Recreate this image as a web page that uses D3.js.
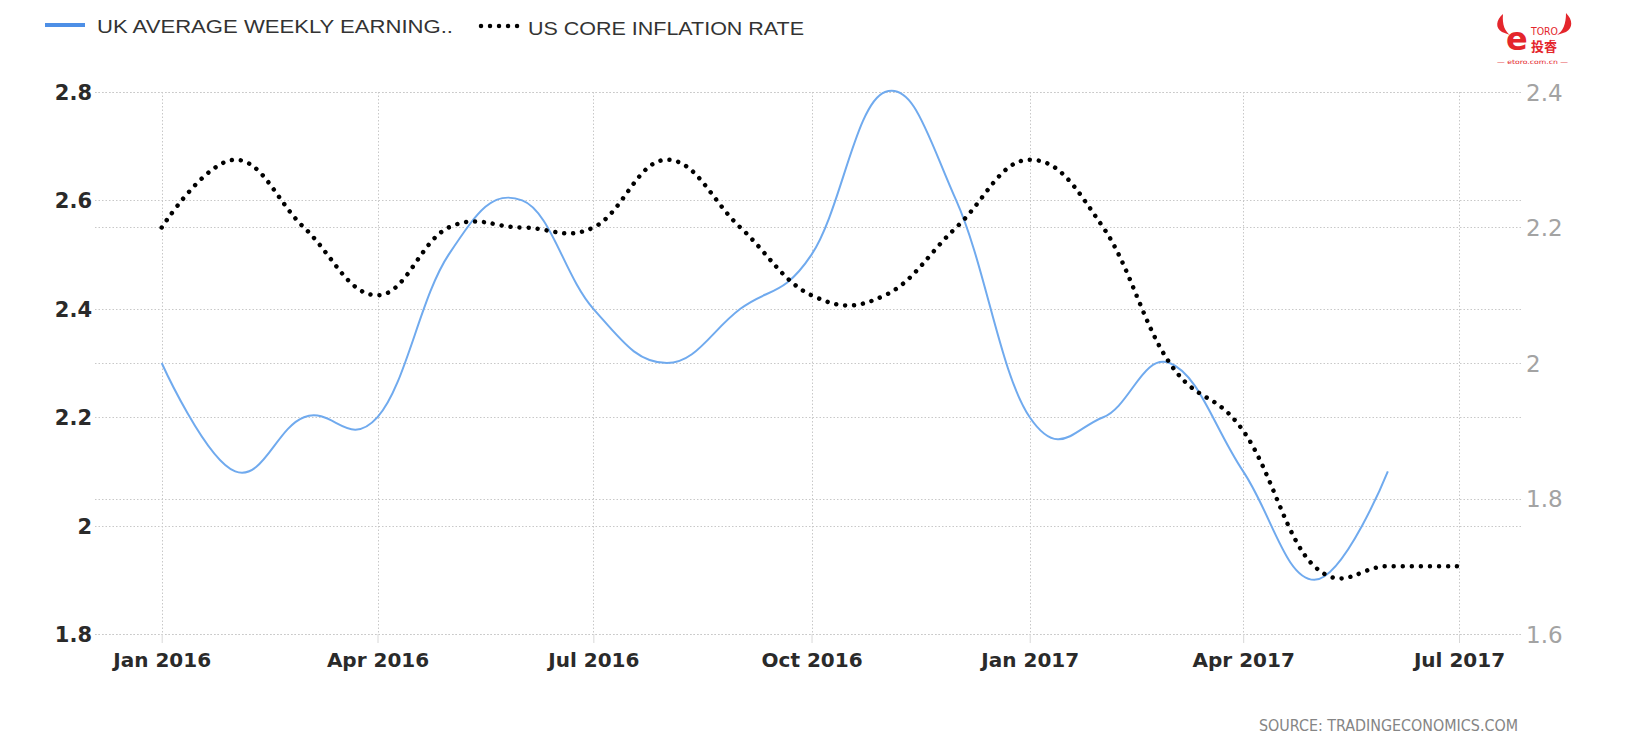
<!DOCTYPE html>
<html><head><meta charset="utf-8">
<script src="https://cdn.jsdelivr.net/npm/d3@7"></script>
<style>html,body{margin:0;padding:0;background:#fff;}svg{display:block;}</style>
</head><body>
<svg id="chart" width="1645" height="750"></svg>
<script>
// ---- data ----
const ukMonths = ["2016-01","2016-02","2016-03","2016-04","2016-05","2016-06","2016-07","2016-08","2016-09","2016-10","2016-11","2016-12","2017-01","2017-02","2017-03","2017-04","2017-05","2017-06"];
const ukValues = [2.3,2.1,2.2,2.2,2.5,2.6,2.4,2.3,2.4,2.5,2.8,2.6,2.2,2.2,2.3,2.1,1.9,2.1];
const usMonths = ["2016-01","2016-02","2016-03","2016-04","2016-05","2016-06","2016-07","2016-08","2016-09","2016-10","2016-11","2016-12","2017-01","2017-02","2017-03","2017-04","2017-05","2017-06","2017-07"];
const usValues = [2.2,2.3,2.2,2.1,2.2,2.2,2.2,2.3,2.2,2.1,2.1,2.2,2.3,2.2,2.0,1.9,1.7,1.7,1.7];
const xTicks = ["2016-01","2016-04","2016-07","2016-10","2017-01","2017-04","2017-07"];
const leftTicks = [1.8,2.0,2.2,2.4,2.6,2.8];
const rightTicks = [1.6,1.8,2.0,2.2,2.4];
const seriesNames = ["UK AVERAGE WEEKLY EARNING..","US CORE INFLATION RATE"];

const parse = d3.timeParse("%Y-%m");
const svg = d3.select("#chart");
const plotTop = 92, plotBottom = 634, gridLeft = 95, gridRight = 1523;

const x = d3.scaleTime().domain([parse("2016-01"), parse("2017-07")]).range([161.7, 1459]);
const yL = d3.scaleLinear().domain([1.8, 2.8]).range([plotBottom, plotTop]);
const yR = d3.scaleLinear().domain([1.6, 2.4]).range([plotBottom, plotTop]);

const gridStyle = g => g.attr("stroke", "#c8c8c8").attr("stroke-width", 1).attr("stroke-dasharray", "1.5,2");

// horizontal grid (left axis)
svg.append("g").selectAll("line").data(leftTicks).join("line")
  .attr("x1", gridLeft).attr("x2", gridRight)
  .attr("y1", d => Math.round(yL(d)) + 0.5).attr("y2", d => Math.round(yL(d)) + 0.5)
  .call(gridStyle);
// horizontal grid (right axis)
svg.append("g").selectAll("line").data(rightTicks).join("line")
  .attr("x1", gridLeft).attr("x2", gridRight)
  .attr("y1", d => Math.round(yR(d)) + 0.5).attr("y2", d => Math.round(yR(d)) + 0.5)
  .call(gridStyle);
// vertical grid
svg.append("g").selectAll("line").data(xTicks).join("line")
  .attr("x1", d => Math.round(x(parse(d))) + 0.5).attr("x2", d => Math.round(x(parse(d))) + 0.5)
  .attr("y1", plotTop).attr("y2", plotBottom)
  .call(gridStyle);

// x axis
const xAxis = d3.axisBottom(x).tickValues(xTicks.map(parse)).tickFormat(d3.timeFormat("%b %Y")).tickSize(9).tickPadding(10);
const gx = svg.append("g").attr("transform", `translate(0,${plotBottom})`).call(xAxis);
gx.select(".domain").remove();
gx.selectAll(".tick line").attr("stroke", "#d8d8d8");
gx.selectAll(".tick text").attr("font-family", "DejaVu Sans").attr("font-weight", "bold")
  .attr("font-size", 20).attr("fill", "#2a2a2a");

// left axis
const gl = svg.append("g").attr("transform", `translate(${gridLeft - 3},0)`)
  .call(d3.axisLeft(yL).tickValues(leftTicks).tickFormat(d3.format("~g")).tickSize(0).tickPadding(0));
gl.select(".domain").remove();
gl.selectAll(".tick text").attr("font-family", "DejaVu Sans").attr("font-weight", "bold")
  .attr("font-size", 21).attr("fill", "#2a2a2a").attr("dy", "0.36em");

// right axis
const gr = svg.append("g").attr("transform", `translate(${gridRight + 3},0)`)
  .call(d3.axisRight(yR).tickValues(rightTicks).tickFormat(d3.format("~g")).tickSize(0).tickPadding(0));
gr.select(".domain").remove();
gr.selectAll(".tick text").attr("font-family", "DejaVu Sans")
  .attr("font-size", 23).attr("fill", "#a3a3a3").attr("dy", "0.36em");

// Highcharts-like spline
function splinePath(pts) {
  const p = d3.path(), s = 1.5, dn = 2.5;
  const ctrl = pts.map((pt, i) => {
    if (i === 0 || i === pts.length - 1) return { l: pt, r: pt };
    const [px, py] = pt, [lx, ly] = pts[i - 1], [nx, ny] = pts[i + 1];
    let lcx = (s * px + lx) / dn, lcy = (s * py + ly) / dn;
    let rcx = (s * px + nx) / dn, rcy = (s * py + ny) / dn;
    if (rcx !== lcx) {
      const c = ((rcy - lcy) * (rcx - px)) / (rcx - lcx) + py - rcy;
      lcy += c; rcy += c;
    }
    return { l: [lcx, lcy], r: [rcx, rcy] };
  });
  p.moveTo(pts[0][0], pts[0][1]);
  for (let i = 1; i < pts.length; i++) {
    p.bezierCurveTo(ctrl[i - 1].r[0], ctrl[i - 1].r[1], ctrl[i].l[0], ctrl[i].l[1], pts[i][0], pts[i][1]);
  }
  return p.toString();
}

const ukPts = ukMonths.map((m, i) => [x(parse(m)), yL(ukValues[i])]);
const usPts = usMonths.map((m, i) => [x(parse(m)), yR(usValues[i])]);

svg.append("path").attr("d", splinePath(ukPts)).attr("fill", "none")
  .attr("stroke", "#70aaee").attr("stroke-width", 2);
svg.append("path").attr("d", splinePath(usPts)).attr("fill", "none")
  .attr("stroke", "#000").attr("stroke-width", 4.5).attr("stroke-linecap", "round")
  .attr("stroke-dasharray", "0.01,9");

// legend
const lg = svg.append("g");
lg.append("line").attr("x1", 45).attr("x2", 85).attr("y1", 25).attr("y2", 25)
  .attr("stroke", "#4d8fe6").attr("stroke-width", 4);
lg.append("text").attr("x", 97).attr("y", 33).text(seriesNames[0])
  .attr("font-family", "Liberation Sans").attr("font-size", 18).attr("fill", "#333")
  .attr("textLength", 356).attr("lengthAdjust", "spacingAndGlyphs");
lg.append("line").attr("x1", 481).attr("x2", 521).attr("y1", 26).attr("y2", 26)
  .attr("stroke", "#000").attr("stroke-width", 4.5).attr("stroke-linecap", "round").attr("stroke-dasharray", "0.01,9");
lg.append("text").attr("x", 528).attr("y", 35).text(seriesNames[1])
  .attr("font-family", "Liberation Sans").attr("font-size", 18).attr("fill", "#333")
  .attr("textLength", 276).attr("lengthAdjust", "spacingAndGlyphs");

// source
svg.append("text").attr("x", 1259).attr("y", 731).text("SOURCE: TRADINGECONOMICS.COM")
  .attr("font-family", "DejaVu Sans Condensed, DejaVu Sans").attr("font-size", 15).attr("fill", "#858585")
  .attr("textLength", 259).attr("lengthAdjust", "spacingAndGlyphs");

// logo
const red = "#e4262c";
const logo = svg.append("g");
logo.append("path").attr("fill", red)
  .attr("d", "M1503,14 C1496,20 1495,28 1502,32 L1510,35 C1505,31 1502,25 1503,14 Z");
logo.append("path").attr("fill", red)
  .attr("d", "M1566,13 C1573,20 1573,28 1566,32 L1557,35 C1563,31 1566,24 1566,13 Z");
logo.append("text").attr("x", 1506).attr("y", 50).text("e")
  .attr("font-family", "DejaVu Sans").attr("font-weight", "bold").attr("font-size", 32).attr("fill", red);
logo.append("text").attr("x", 1531).attr("y", 35).text("TORO")
  .attr("font-family", "DejaVu Sans").attr("font-size", 10).attr("fill", red)
  .attr("textLength", 27).attr("lengthAdjust", "spacingAndGlyphs");
logo.append("text").attr("x", 1531).attr("y", 51).text("投睿")
  .attr("font-family", "Noto Sans CJK SC").attr("font-weight", "bold").attr("font-size", 13).attr("fill", red);
logo.append("text").attr("x", 1497).attr("y", 64).text("— etoro.com.cn —")
  .attr("font-family", "DejaVu Sans").attr("font-size", 6).attr("fill", red)
  .attr("textLength", 71).attr("lengthAdjust", "spacingAndGlyphs");
</script>
</body></html>
